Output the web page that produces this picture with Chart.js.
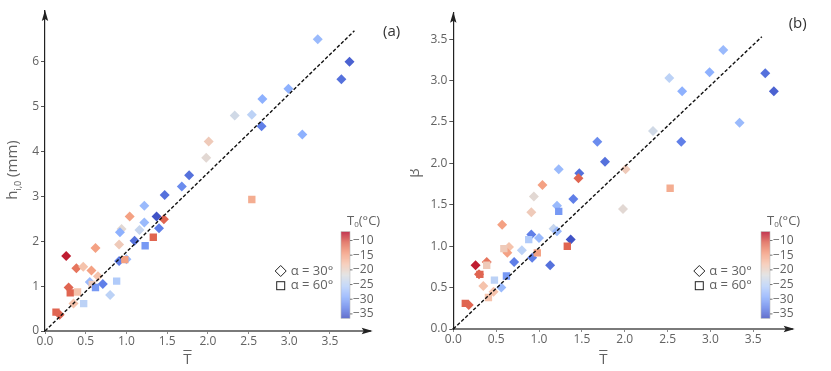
<!DOCTYPE html>
<html>
<head>
<meta charset="utf-8">
<script src="https://cdn.jsdelivr.net/npm/chart.js@4.4.0/dist/chart.umd.min.js"></script>
<style>
  body { margin: 0; background: #fff; width: 831px; height: 371px; position: relative; overflow: hidden; }
  .panel { position: absolute; top: 0; height: 371px; }
</style>
</head>
<body>
<div class="panel" style="left:0;width:415px"><canvas id="chartA"></canvas></div>
<div class="panel" style="left:410px;width:421px"><canvas id="chartB"></canvas></div>
<script>
// ---- data ----
// panel (a): h_i,0 vs T-bar, alpha = 30 deg (diamonds)
const tA30 = [3.35, 3.74, 3.64, 2.99, 2.67, 2.54, 2.33, 2.66, 3.16, 2.01, 1.98, 1.77, 1.68, 1.47, 1.22, 1.04, 1.37, 1.46, 1.22, 1.40, 1.16, 0.94, 0.92, 1.10, 0.62, 0.91, 0.26, 0.91, 1.00, 0.385, 0.47, 0.57, 0.55, 0.65, 0.71, 0.29, 0.80, 0.35, 0.18];
const hA30 = [6.50, 6.00, 5.61, 5.40, 5.17, 4.82, 4.80, 4.56, 4.38, 4.22, 3.86, 3.47, 3.22, 3.03, 2.79, 2.55, 2.55, 2.49, 2.42, 2.29, 2.25, 2.27, 2.20, 2.01, 1.85, 1.93, 1.67, 1.56, 1.60, 1.40, 1.43, 1.35, 1.09, 1.22, 1.05, 0.97, 0.80, 0.61, 0.36];
const cA30 = [-28, -35, -34, -29, -29, -25, -23, -33, -29, -19, -21, -34, -32, -34, -28, -15, -36, -11, -28, -33, -24, -21, -29, -34, -15, -19, -8, -33, -28, -12, -18, -15, -28, -18, -33, -11, -25, -18, -11];
// panel (a), alpha = 60 deg (squares)
const tA60 = [2.54, 1.33, 1.23, 0.98, 0.88, 0.58, 0.62, 0.31, 0.40, 0.475, 0.135];
const hA60 = [2.93, 2.09, 1.90, 1.59, 1.11, 1.04, 0.97, 0.85, 0.87, 0.61, 0.42];
const cA60 = [-16, -11, -31, -15, -26, -19, -31, -11, -18, -25, -11];

// panel (b): beta vs T-bar, alpha = 30 deg
const tB30 = [3.15, 2.99, 2.52, 3.64, 2.67, 3.74, 3.34, 2.33, 1.68, 2.66, 1.77, 1.23, 2.01, 1.47, 1.46, 1.04, 0.94, 1.40, 1.98, 0.91, 1.21, 0.57, 1.17, 1.21, 0.91, 1.00, 1.37, 0.65, 0.63, 0.80, 0.71, 0.92, 1.13, 0.39, 0.26, 0.30, 0.35, 0.56, 0.47, 0.18];
const bB30 = [3.37, 3.10, 3.03, 3.09, 2.87, 2.87, 2.49, 2.39, 2.26, 2.26, 2.02, 1.93, 1.93, 1.88, 1.82, 1.74, 1.60, 1.57, 1.45, 1.41, 1.49, 1.26, 1.21, 1.18, 1.14, 1.10, 1.08, 0.99, 0.92, 0.95, 0.81, 0.86, 0.77, 0.81, 0.77, 0.66, 0.52, 0.50, 0.45, 0.29];
const cB30 = [-28, -29, -25, -34, -29, -35, -28, -23, -32, -33, -34, -28, -19, -34, -11, -15, -21, -33, -21, -19, -28, -15, -24, -28, -33, -28, -36, -18, -15, -25, -33, -33, -34, -12, -8, -11, -18, -28, -18, -11];
// panel (b), alpha = 60 deg
const tB60 = [2.53, 1.23, 1.33, 0.88, 0.98, 0.59, 0.39, 0.31, 0.48, 0.62, 0.41, 0.14];
const bB60 = [1.70, 1.42, 1.00, 1.08, 0.92, 0.97, 0.77, 0.66, 0.59, 0.64, 0.38, 0.31];
const cB60 = [-16, -31, -11, -26, -15, -19, -19, -11, -25, -31, -18, -11];

// dashed reference lines
const fitTa = [0, 3.8];
const fitH = [0, 6.69];
const fitTb = [0, 3.6];
const fitBeta = [0, 3.53];

// axis ticks
const xTicks = [0, 0.5, 1.0, 1.5, 2.0, 2.5, 3.0, 3.5];
const yTicksA = [0, 1, 2, 3, 4, 5, 6];
const yTicksB = [0, 0.5, 1.0, 1.5, 2.0, 2.5, 3.0, 3.5];
const cbarTicks = [-10, -15, -20, -25, -30, -35];
const cbarMin = -36.5;
const cbarMax = -7;

// ---- colour map (coolwarm) ----
const coolwarmStops = [
  [59, 76, 192], [98, 130, 234], [141, 176, 254], [184, 208, 249],
  [221, 221, 221], [245, 196, 173], [244, 154, 123], [222, 96, 77], [180, 4, 38]
];
function coolwarmFrac(t) {
  t = Math.max(0, Math.min(1, t));
  const p = t * (coolwarmStops.length - 1);
  const i = Math.min(Math.floor(p), coolwarmStops.length - 2);
  const f = p - i;
  const a = coolwarmStops[i], b = coolwarmStops[i + 1];
  return 'rgb(' + a.map((v, k) => Math.round(v + (b[k] - v) * f)).join(',') + ')';
}
function coolwarm(temp) {
  return coolwarmFrac((temp - cbarMin) / (cbarMax - cbarMin));
}

const tickFont = { family: 'Open Sans', size: 12 };
const textGray = '#626262';

function pts(xs, ys) {
  return xs.map((x, i) => ({ x: x, y: ys[i] }));
}

function markerSet(xs, ys, temps, style, r) {
  return {
    type: 'scatter',
    data: pts(xs, ys),
    pointStyle: style,
    pointRadius: r,
    pointHoverRadius: r,
    pointBorderWidth: 0,
    borderWidth: 0,
    pointBackgroundColor: temps.map(coolwarm)
  };
}

function lineSet(xs, ys) {
  return {
    type: 'line',
    data: pts(xs, ys),
    borderColor: '#111',
    borderWidth: 1.4,
    borderDash: [3.5, 2],
    pointRadius: 0,
    fill: false
  };
}

function arrowUp(ctx, x, y) {
  ctx.beginPath();
  ctx.moveTo(x, y);
  ctx.lineTo(x - 3.2, y + 11);
  ctx.lineTo(x, y + 9);
  ctx.lineTo(x + 3.2, y + 11);
  ctx.closePath();
  ctx.fill();
}
function arrowRight(ctx, x, y) {
  ctx.beginPath();
  ctx.moveTo(x, y);
  ctx.lineTo(x - 11, y - 3.2);
  ctx.lineTo(x - 9, y);
  ctx.lineTo(x - 11, y + 3.2);
  ctx.closePath();
  ctx.fill();
}

// annotations: arrows, axis titles, legend, colour bar, panel label
const decor = {
  id: 'decor',
  afterDraw(chart) {
    const cfg = chart.options.plugins.decor;
    const ctx = chart.ctx;
    const area = chart.chartArea;
    const xs = chart.scales.x;
    ctx.save();

    // axis arrows
    ctx.fillStyle = '#222';
    arrowUp(ctx, area.left, area.top - 1);
    arrowRight(ctx, area.right + 2, area.bottom);

    // x title: T with an overbar
    ctx.fillStyle = textGray;
    ctx.font = '15px "Open Sans"';
    ctx.textAlign = 'center';
    ctx.textBaseline = 'alphabetic';
    const xc = (xs.getPixelForValue(0) + xs.getPixelForValue(3.5)) / 2;
    ctx.fillText('T', xc, 364);
    const tw = ctx.measureText('T').width;
    ctx.strokeStyle = textGray;
    ctx.lineWidth = 1;
    ctx.beginPath();
    ctx.moveTo(xc - tw / 2, 350.5);
    ctx.lineTo(xc + tw / 2, 350.5);
    ctx.stroke();

    // y title
    ctx.save();
    ctx.translate(cfg.yTitleX, cfg.yTitleY);
    ctx.rotate(-Math.PI / 2);
    ctx.textAlign = 'left';
    ctx.textBaseline = 'middle';
    if (cfg.yTitle === 'h') {
      ctx.font = '15px "Open Sans"';
      const w1 = ctx.measureText('h').width;
      const w3 = ctx.measureText(' (mm)').width;
      ctx.font = '9px "Open Sans"';
      const w2 = ctx.measureText('i,0').width;
      let x0 = -(w1 + w2 + w3) / 2;
      ctx.font = '15px "Open Sans"';
      ctx.fillText('h', x0, 0);
      ctx.font = '9px "Open Sans"';
      ctx.fillText('i,0', x0 + w1, 5);
      ctx.font = '15px "Open Sans"';
      ctx.fillText(' (mm)', x0 + w1 + w2, 0);
    } else {
      ctx.font = '15px "Open Sans"';
      ctx.textAlign = 'center';
      ctx.fillText('β', 0, 0);
    }
    ctx.restore();

    // panel label
    ctx.font = '15px "Open Sans"';
    ctx.textAlign = 'center';
    ctx.textBaseline = 'middle';
    ctx.fillStyle = '#333';
    ctx.fillText(cfg.label, cfg.labelX, cfg.labelY);

    // legend
    const lx = cfg.legendX, ly = cfg.legendY;
    ctx.strokeStyle = '#222';
    ctx.lineWidth = 1;
    ctx.beginPath();
    ctx.moveTo(lx, ly - 5.5);
    ctx.lineTo(lx + 5.5, ly);
    ctx.lineTo(lx, ly + 5.5);
    ctx.lineTo(lx - 5.5, ly);
    ctx.closePath();
    ctx.stroke();
    ctx.strokeRect(lx - 4, ly + 14.7 - 4, 8, 8);
    ctx.fillStyle = textGray;
    ctx.font = '13px "Open Sans"';
    ctx.textAlign = 'left';
    ctx.fillText('α = 30°', lx + 10, ly);
    ctx.fillText('α = 60°', lx + 10, ly + 14.7);

    // colour bar
    const cx = cfg.cbarX, cTop = 231.7, cBot = 318.3, cw = 9;
    const yOf = v => cTop + (cbarMax - v) / (cbarMax - cbarMin) * (cBot - cTop);
    for (let y = cTop; y < cBot; y += 1) {
      const v = cbarMax - (y + 0.5 - cTop) / (cBot - cTop) * (cbarMax - cbarMin);
      ctx.fillStyle = coolwarm(v);
      ctx.fillRect(cx, y, cw, Math.min(1, cBot - y));
    }
    ctx.strokeStyle = '#bbb';
    ctx.lineWidth = 0.6;
    ctx.strokeRect(cx, cTop, cw, cBot - cTop);
    ctx.strokeStyle = '#555';
    ctx.lineWidth = 0.8;
    ctx.fillStyle = textGray;
    ctx.font = '12px "Open Sans"';
    ctx.textAlign = 'left';
    ctx.textBaseline = 'middle';
    cbarTicks.forEach(v => {
      const y = yOf(v);
      ctx.beginPath();
      ctx.moveTo(cx + cw, y);
      ctx.lineTo(cx + cw + 2.5, y);
      ctx.stroke();
      ctx.fillText('\u2212' + Math.abs(v), cx + cw + 3, y);
    });
    // colour bar title T0(°C)
    ctx.font = '13px "Open Sans"';
    const tx = cx + 6;
    ctx.fillText('T', tx, 221);
    const tW = ctx.measureText('T').width;
    ctx.font = '8px "Open Sans"';
    ctx.fillText('0', tx + tW, 225);
    const zW = ctx.measureText('0').width;
    ctx.font = '13px "Open Sans"';
    ctx.fillText('(°C)', tx + tW + zW, 221);

    ctx.restore();
  }
};

function makeOptions(p) {
  return {
    responsive: true,
    maintainAspectRatio: false,
    animation: false,
    events: [],
    layout: { padding: { left: 0, right: p.padRight, top: p.padTop, bottom: 0 } },
    plugins: {
      legend: { display: false },
      tooltip: { enabled: false },
      decor: p.decor
    },
    scales: {
      x: {
        type: 'linear',
        min: 0,
        max: p.xMax,
        afterFit: s => { s.height = p.xAxisH; },
        afterBuildTicks: s => { s.ticks = xTicks.map(v => ({ value: v })); },
        ticks: { font: tickFont, color: textGray, padding: 0, maxRotation: 0, callback: v => v.toFixed(1) },
        grid: { drawOnChartArea: false, tickLength: 3, color: '#888' },
        border: { color: '#7a7a7a', width: 2 }
      },
      y: {
        type: 'linear',
        min: 0,
        max: p.yMax,
        afterFit: s => { s.width = p.yAxisW; },
        afterBuildTicks: s => { s.ticks = p.yTicks.map(v => ({ value: v })); },
        ticks: { font: tickFont, color: textGray, padding: 2, callback: p.yFmt },
        grid: { drawOnChartArea: false, tickLength: 4, color: '#555' },
        border: { color: '#222', width: 1.2 }
      }
    }
  };
}

new Chart(document.getElementById('chartA'), {
  type: 'scatter',
  data: {
    datasets: [
      lineSet(fitTa, fitH),
      markerSet(tA60, hA60, cA60, 'rect', 5.2),
      markerSet(tA30, hA30, cA30, 'rectRot', 5)
    ]
  },
  options: makeOptions({
    padRight: 44.3, padTop: 11, xAxisH: 40, yAxisW: 45,
    xMax: 4.0, yMax: 7.13, yTicks: yTicksA, yFmt: v => String(v),
    decor: { yTitle: 'h', yTitleX: 13, yTitleY: 170, label: '(a)', labelX: 391.7, labelY: 31.7,
             legendX: 280.7, legendY: 271, cbarX: 341 }
  }),
  plugins: [decor]
});

new Chart(document.getElementById('chartB'), {
  type: 'scatter',
  data: {
    datasets: [
      lineSet(fitTb, fitBeta),
      markerSet(tB60, bB60, cB60, 'rect', 5.2),
      markerSet(tB30, bB30, cB30, 'rectRot', 5)
    ]
  },
  options: makeOptions({
    padRight: 38.3, padTop: 12.7, xAxisH: 42, yAxisW: 43.3,
    xMax: 3.96, yMax: 3.82, yTicks: yTicksB, yFmt: v => v.toFixed(1),
    decor: { yTitle: 'b', yTitleX: 5, yTitleY: 173, label: '(b)', labelX: 387.7, labelY: 23.3,
             legendX: 289.3, legendY: 271, cbarX: 351 }
  }),
  plugins: [decor]
});
</script>
</body>
</html>
